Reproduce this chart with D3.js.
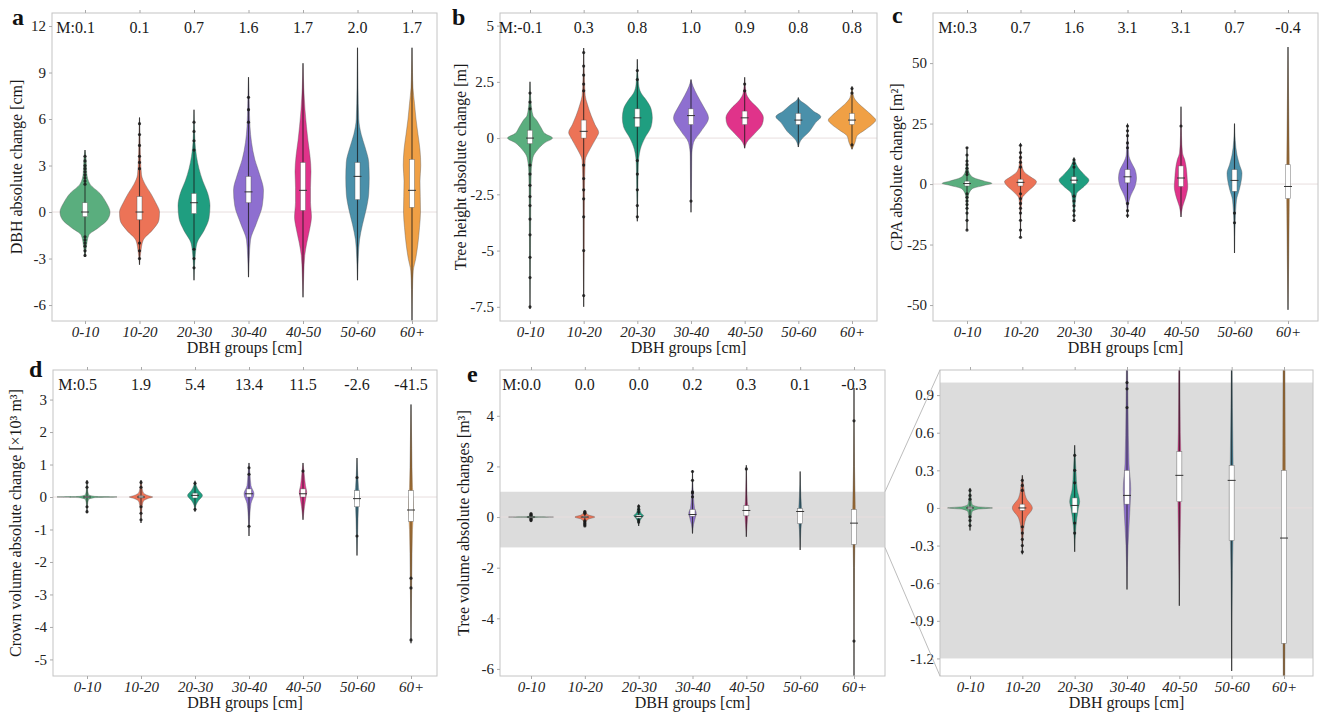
<!DOCTYPE html>
<html>
<head>
<meta charset="utf-8">
<script src="https://cdn.jsdelivr.net/npm/d3@7"></script>
<style>
  body { margin: 0; background: #fff; }
</style>
</head>
<body>
<svg id="chart" width="1324" height="718"></svg>
<script>
var groups = ["0-10", "10-20", "20-30", "30-40", "40-50", "50-60", "60+"];
var colors = ["#5aae7e", "#ec7357", "#1f9e80", "#8e6fd0", "#e0338a", "#4a90aa", "#f0a045"];

// mean labels printed on top of each panel
var meanA = ["0.1", "0.1", "0.7", "1.6", "1.7", "2.0", "1.7"];
var meanB = ["-0.1", "0.3", "0.8", "1.0", "0.9", "0.8", "0.8"];
var meanC = ["0.3", "0.7", "1.6", "3.1", "3.1", "0.7", "-0.4"];
var meanD = ["0.5", "1.9", "5.4", "13.4", "11.5", "-2.6", "-41.5"];
var meanE = ["0.0", "0.0", "0.0", "0.2", "0.3", "0.1", "-0.3"];

// y tick values
var ticksA = [-6, -3, 0, 3, 6, 9, 12];
var ticksB = [-7.5, -5, -2.5, 0, 2.5, 5];
var ticksC = [-50, -25, 0, 25, 50];
var ticksD = [-5, -4, -3, -2, -1, 0, 1, 2, 3];
var ticksE = [-6, -4, -2, 0, 2, 4];
var ticksF = [-1.2, -0.9, -0.6, -0.3, 0, 0.3, 0.6, 0.9];

// zoomed range of panel e shown in panel f
var insetRange = [-1.2, 1.0];

// violin outlines: [value, relative density]
var violinA = [
  [[-2.9,0],[-2.3,0.05],[-1.5,0.15],[-1.0,0.55],[-0.5,0.9],[0,1],[0.6,0.85],[1.2,0.6],[1.8,0.2],[2.5,0.07],[3.5,0.04],[4,0]],
  [[-3.4,0],[-2.6,0.05],[-1.8,0.15],[-1.2,0.5],[-0.5,0.78],[0,0.8],[0.6,0.65],[1.2,0.45],[1.8,0.22],[2.4,0.08],[3.5,0.04],[5,0.02],[6.1,0]],
  [[-4.4,0],[-3,0.04],[-2.0,0.12],[-1.2,0.4],[-0.4,0.6],[0.4,0.64],[1.2,0.55],[2.0,0.35],[2.8,0.2],[3.6,0.1],[4.5,0.04],[6.6,0]],
  [[-4.2,0],[-3,0.03],[-1.8,0.08],[-0.8,0.3],[0.4,0.55],[1.4,0.6],[2.4,0.45],[3.4,0.25],[4.5,0.12],[5.5,0.06],[7,0.03],[8.7,0]],
  [[-5.5,0],[-4,0.03],[-2.8,0.07],[-2,0.15],[-1,0.28],[-0.3,0.34],[0.6,0.3],[1.6,0.3],[2.6,0.32],[3.6,0.28],[4.6,0.2],[5.5,0.14],[6.6,0.08],[8,0.03],[9.6,0]],
  [[-4.4,0],[-3,0.03],[-1.8,0.08],[-0.8,0.2],[0.2,0.35],[1.2,0.45],[2.2,0.47],[3.2,0.45],[4.2,0.3],[5,0.15],[6,0.05],[8,0.02],[10.6,0]],
  [[-7,0],[-5,0.02],[-3.8,0.05],[-3,0.15],[-2,0.24],[-1,0.3],[0,0.34],[1,0.33],[2,0.32],[3,0.35],[4,0.32],[5,0.24],[6,0.16],[7,0.1],[8,0.04],[9,0.02],[10.6,0]]
];
var boxA = [[-0.3,0,0.6],[-0.5,0,1.0],[-0.1,0.6,1.2],[0.6,1.3,2.3],[0.1,1.4,3.2],[0.8,2.3,3.2],[0.3,1.4,3.4]];
var rangeA = [[-2.9,4],[-3.4,6.1],[-4.4,6.6],[-4.2,8.7],[-5.5,9.6],[-4.4,10.6],[-7,10.6]];
var dotsA = [
  [3.6,3.3,3.0,2.8,2.6,2.4,2.2,2.0,1.8,-1.6,-1.8,-2.0,-2.2,-2.5,-2.8],
  [5.7,5.0,4.3,3.6,3.2,2.8,-2.0,-2.5,-3.0],
  [5.8,5.2,4.6,4.0,-2.4,-3.0,-3.6],
  [7.4,6.6,5.8],
  [],
  [],
  []
];

var violinB = [
  [[-7.6,0],[-5,0.02],[-3,0.03],[-1.5,0.05],[-0.85,0.12],[-0.5,0.32],[-0.2,0.6],[0,0.9],[0.2,0.6],[0.45,0.45],[0.8,0.26],[1.0,0.12],[1.6,0.04],[2.5,0]],
  [[-7.5,0],[-5,0.02],[-2.5,0.03],[-1,0.06],[-0.5,0.25],[0,0.5],[0.25,0.6],[0.6,0.45],[1.0,0.3],[1.5,0.15],[1.9,0.06],[2.6,0.03],[4.0,0]],
  [[-3.7,0],[-2.5,0.02],[-1.2,0.04],[-0.5,0.12],[0,0.3],[0.5,0.55],[0.9,0.6],[1.3,0.55],[1.7,0.35],[2.0,0.15],[2.4,0.05],[3.5,0]],
  [[-3.3,0],[-2,0.02],[-0.8,0.03],[-0.2,0.1],[0.3,0.4],[0.9,0.7],[1.4,0.5],[1.9,0.25],[2.3,0.08],[2.6,0]],
  [[-0.45,0],[-0.2,0.08],[0.2,0.4],[0.6,0.7],[0.9,0.75],[1.3,0.55],[1.7,0.2],[2.0,0.06],[2.7,0]],
  [[-0.4,0],[-0.1,0.1],[0.3,0.45],[0.7,0.7],[0.95,0.9],[1.2,0.6],[1.45,0.35],[1.7,0.05],[1.8,0]],
  [[-0.5,0],[-0.2,0.12],[0.1,0.2],[0.35,0.5],[0.6,0.8],[0.8,0.95],[1.0,0.8],[1.3,0.5],[1.55,0.25],[1.8,0.08],[2.3,0]]
];
var boxB = [[-0.25,0,0.35],[0,0.3,0.8],[0.5,0.9,1.3],[0.6,1.0,1.3],[0.6,0.9,1.2],[0.6,0.8,1.1],[0.6,0.8,1.1]];
var rangeB = [[-7.6,2.5],[-7.5,4.0],[-3.7,3.5],[-3.3,2.6],[-0.45,2.7],[-0.4,1.8],[-0.5,2.3]];
var dotsB = [
  [2.0,1.6,1.3,-1.2,-1.6,-2.1,-2.6,-3.0,-3.6,-4.3,-5.3,-6.2,-7.5],
  [3.8,3.2,2.8,2.4,2.1,-1.2,-1.8,-2.3,-2.7,-3.5,-5.0,-7.0],
  [3.0,2.6,-1.0,-1.6,-2.3,-3.0,-3.5],
  [-2.8],
  [2.4,2.1],
  [],
  [2.2,2.0,-0.3]
];

var violinC = [
  [[-19,0],[-10,0.02],[-5,0.05],[-2,0.2],[-0.5,0.7],[0.3,1.0],[1.2,0.7],[3,0.2],[6,0.05],[10,0.02],[15.3,0]],
  [[-22,0],[-12,0.02],[-6,0.06],[-3,0.3],[0,0.6],[1,0.64],[3,0.4],[5,0.15],[8,0.05],[12,0.02],[17,0]],
  [[-15.6,0],[-10,0.03],[-4,0.1],[-1,0.4],[1.6,0.6],[4,0.4],[7,0.15],[9,0.06],[11,0]],
  [[-14,0],[-9,0.03],[-5,0.12],[-1,0.3],[2.5,0.36],[6,0.3],[9,0.15],[12,0.05],[18,0.02],[25,0]],
  [[-13.6,0],[-9.5,0.06],[-5,0.2],[-1,0.27],[2,0.25],[6,0.22],[10,0.15],[12.8,0.06],[20,0.02],[32,0]],
  [[-28.5,0],[-15,0.03],[-6.6,0.08],[-2,0.2],[2,0.28],[4.5,0.3],[8,0.2],[12,0.1],[18,0.03],[25,0]],
  [[-52,0],[-30,0.03],[-10,0.05],[0,0.06],[10,0.05],[30,0.03],[56.6,0]]
];
var boxC = [[-0.8,0.2,1.2],[-0.8,0.7,2.0],[0.2,1.6,3.0],[0.5,3.0,6.0],[-1,2.5,7.5],[-3,1.5,6],[-6,-1,8]];
var rangeC = [[-19,15.3],[-22,17],[-15.6,11],[-14,25],[-13.6,32],[-28.5,25],[-52,56.6]];
var dotsC = [
  [15,12,9.5,8,6.5,5,4,-4,-5.5,-7,-8.5,-10,-12,-15,-19],
  [16,13,11,9,7,-4,-6,-8,-10,-12,-15,-19,-22],
  [10,8.5,7,-5,-7,-9,-11,-13,-15],
  [24,22,20,17,15,-8,-11,-13],
  [24],
  [-12,-16],
  []
];

var violinD = [
  [[-0.5,0],[-0.25,0.02],[-0.08,0.06],[-0.02,0.3],[0,1.2],[0.02,0.3],[0.08,0.06],[0.25,0.02],[0.52,0]],
  [[-0.8,0],[-0.4,0.03],[-0.15,0.08],[-0.04,0.3],[0,0.47],[0.04,0.3],[0.15,0.08],[0.35,0.03],[0.52,0]],
  [[-0.45,0],[-0.25,0.04],[-0.1,0.15],[0.05,0.3],[0.2,0.15],[0.35,0.05],[0.5,0]],
  [[-1.2,0],[-0.6,0.03],[-0.2,0.08],[0.1,0.2],[0.35,0.08],[0.7,0.04],[1.05,0]],
  [[-0.7,0],[-0.3,0.06],[0,0.12],[0.15,0.15],[0.35,0.1],[0.7,0.05],[1.05,0]],
  [[-1.8,0],[-1,0.03],[-0.3,0.06],[0,0.1],[0.3,0.06],[0.7,0.03],[1.2,0]],
  [[-4.5,0],[-2.5,0.03],[-1,0.06],[-0.3,0.1],[0.3,0.06],[1.5,0.03],[2.85,0]]
];
var boxD = [[-0.02,0,0.02],[-0.03,0,0.04],[-0.03,0.05,0.12],[0,0.1,0.25],[0,0.1,0.25],[-0.3,-0.05,0.2],[-0.75,-0.4,0.2]];
var rangeD = [[-0.5,0.52],[-0.8,0.52],[-0.45,0.5],[-1.2,1.05],[-0.7,1.05],[-1.8,1.2],[-4.5,2.85]];
var dotsD = [
  [0.45,0.3,-0.3,-0.45],
  [0.45,0.3,-0.3,-0.5,-0.7],
  [0.42,-0.38],
  [0.9,0.7,-0.9],
  [0.8],
  [0.6,-1.2],
  [-2.5,-2.8,-4.4]
];

// tree volume (panel e, zoomed in panel f)
var violinE = [
  [[-0.18,0],[-0.1,0.03],[-0.03,0.08],[-0.01,0.3],[0,0.9],[0.01,0.3],[0.03,0.08],[0.1,0.03],[0.16,0]],
  [[-0.37,0],[-0.2,0.04],[-0.08,0.15],[0,0.4],[0.08,0.15],[0.18,0.05],[0.26,0]],
  [[-0.35,0],[-0.15,0.05],[0,0.15],[0.05,0.2],[0.15,0.1],[0.3,0.05],[0.5,0]],
  [[-0.65,0],[-0.3,0.04],[0,0.12],[0.15,0.15],[0.35,0.08],[0.8,0.04],[1.85,0]],
  [[-0.78,0],[-0.3,0.03],[0.1,0.06],[0.3,0.07],[0.6,0.04],[1.2,0.02],[2.05,0]],
  [[-1.3,0],[-0.5,0.03],[0,0.07],[0.3,0.06],[0.8,0.03],[1.8,0]],
  [[-6.3,0],[-2,0.02],[-0.5,0.05],[0,0.06],[0.5,0.05],[2,0.02],[5.1,0]]
];
var boxE = [[-0.01,0,0.01],[-0.02,0,0.03],[-0.04,0.02,0.08],[0.03,0.1,0.3],[0.05,0.26,0.45],[-0.26,0.22,0.34],[-1.08,-0.24,0.3]];
var rangeE = [[-0.18,0.16],[-0.37,0.26],[-0.35,0.5],[-0.65,1.85],[-0.78,2.05],[-1.3,1.8],[-6.3,5.1]];
var dotsE = [
  [0.14,0.1,0.07,-0.07,-0.1,-0.14],
  [0.22,0.18,0.14,-0.15,-0.2,-0.25,-0.3,-0.35],
  [0.42,0.3,0.2,-0.12,-0.2],
  [1.8,1.45,1.0,0.95,0.8],
  [1.9],
  [],
  [3.8,-4.9]
];

var FONT = "'Liberation Serif', 'DejaVu Serif', serif";
var fmtPlain = function(d) { return String(d); };
var fmtOne = function(d) { return d === 0 ? "0" : d.toFixed(1); };

var panels = [
  {id: "a", left: 52, right: 437, top: 13, bottom: 321, first: 85, last: 412, domain: [-7.03, 12.84],
   ticks: ticksA, fmt: fmtPlain, means: meanA, violin: violinA, box: boxA, range: rangeA, dots: dotsA,
   ylabel: "DBH absolute change [cm]", ylx: 18, letter: [12, 25]},
  {id: "b", left: 500, right: 877, top: 13, bottom: 321, first: 530, last: 852, domain: [-8.13, 5.56],
   ticks: ticksB, fmt: fmtPlain, means: meanB, violin: violinB, box: boxB, range: rangeB, dots: dotsB,
   ylabel: "Tree height absolute change [m]", ylx: 462, letter: [452, 25]},
  {id: "c", left: 933, right: 1318, top: 13, bottom: 321, first: 967, last: 1288, domain: [-56.6, 70.7],
   ticks: ticksC, fmt: fmtPlain, means: meanC, violin: violinC, box: boxC, range: rangeC, dots: dotsC,
   ylabel: "CPA absolute change [m\u00b2]", ylx: 898, letter: [892, 23]},
  {id: "d", left: 53, right: 437, top: 370, bottom: 676, first: 87, last: 411, domain: [-5.51, 3.91],
   ticks: ticksD, fmt: fmtPlain, means: meanD, violin: violinD, box: boxD, range: rangeD, dots: dotsD,
   ylabel: "Crown volume absolute change [\u00d710\u00b3 m\u00b3]", ylx: 17, letter: [29, 377]},
  {id: "e", left: 500, right: 885, top: 370, bottom: 676, first: 531, last: 854, domain: [-6.28, 5.81],
   ticks: ticksE, fmt: fmtPlain, means: meanE, violin: violinE, box: boxE, range: rangeE, dots: dotsE,
   ylabel: "Tree volume absolute changes [m\u00b3]", ylx: 465, letter: [467, 382], band: insetRange},
  {id: "f", left: 940, right: 1313, top: 370, bottom: 676, first: 970, last: 1284, domain: [-1.34, 1.10],
   ticks: ticksF, fmt: fmtOne, means: null, violin: violinE, box: boxE, range: rangeE, dots: dotsE,
   ylabel: null, band: insetRange}
];

var svg = d3.select("#chart").attr("font-family", FONT);
svg.append("rect").attr("width", 1324).attr("height", 718).attr("fill", "#fff");

var wScale = d3.scaleLinear().domain([0, 1]).range([0, 25]);
var scales = {};

panels.forEach(function(p) {
  var g = svg.append("g").attr("class", "panel panel-" + p.id);
  var x = d3.scalePoint().domain(groups).range([p.first, p.last]);
  var y = d3.scaleLinear().domain(p.domain).range([p.bottom, p.top]);
  scales[p.id] = y;

  g.append("clipPath").attr("id", "clip-" + p.id)
    .append("rect")
    .attr("x", p.left).attr("y", p.top)
    .attr("width", p.right - p.left).attr("height", p.bottom - p.top);

  var plot = g.append("g").attr("clip-path", "url(#clip-" + p.id + ")");

  if (p.band) {
    plot.append("rect")
      .attr("x", p.left).attr("width", p.right - p.left)
      .attr("y", y(p.band[1])).attr("height", y(p.band[0]) - y(p.band[1]))
      .attr("fill", "#dcdcdc");
  }

  // zero line
  plot.append("line")
    .attr("x1", p.left).attr("x2", p.right)
    .attr("y1", y(0)).attr("y2", y(0))
    .attr("stroke", "#e8dede").attr("stroke-width", 1);

  var area = d3.area()
    .curve(d3.curveMonotoneY)
    .y(function(d) { return y(d[0]); });

  groups.forEach(function(grp, i) {
    var cx = x(grp);
    var c = colors[i];
    var prof = p.violin[i].slice().reverse();
    area.x0(function(d) { return cx - wScale(d[1]); })
        .x1(function(d) { return cx + wScale(d[1]); });

    plot.append("path")
      .attr("d", area(prof))
      .attr("fill", c)
      .attr("stroke", "#555").attr("stroke-opacity", 0.55)
      .attr("stroke-width", 0.7);

    plot.append("line")
      .attr("x1", cx).attr("x2", cx)
      .attr("y1", y(p.range[i][0])).attr("y2", y(p.range[i][1]))
      .attr("stroke", "#1a1a1a").attr("stroke-width", 1.1).attr("stroke-opacity", 0.75);

    plot.selectAll(null)
      .data(p.dots[i])
      .enter().append("circle")
      .attr("cx", cx).attr("cy", function(d) { return y(d); })
      .attr("r", 1.6)
      .attr("fill", "#1a1a1a").attr("fill-opacity", 0.85);

    var b = p.box[i];
    plot.append("rect")
      .attr("x", cx - 2.5).attr("width", 5)
      .attr("y", y(b[2])).attr("height", Math.max(1, y(b[0]) - y(b[2])))
      .attr("fill", "#fff")
      .attr("stroke", "#555").attr("stroke-width", 0.6).attr("stroke-opacity", 0.7);

    plot.append("line")
      .attr("x1", cx - 4).attr("x2", cx + 4)
      .attr("y1", y(b[1])).attr("y2", y(b[1]))
      .attr("stroke", "#333").attr("stroke-width", 1);
  });

  // frame
  g.append("rect")
    .attr("x", p.left).attr("y", p.top)
    .attr("width", p.right - p.left).attr("height", p.bottom - p.top)
    .attr("fill", "none").attr("stroke", "#c4c4c4").attr("stroke-width", 1);

  // y axis
  var ya = g.append("g")
    .attr("transform", "translate(" + p.left + ",0)")
    .call(d3.axisLeft(y).tickValues(p.ticks).tickFormat(p.fmt).tickSize(3).tickPadding(3))
    .attr("font-family", FONT).attr("font-size", 15);
  ya.select(".domain").remove();
  ya.selectAll(".tick line").attr("stroke", "#aaa");
  ya.selectAll(".tick text").attr("fill", "#222");

  // x axis
  var xa = g.append("g")
    .attr("transform", "translate(0," + p.bottom + ")")
    .call(d3.axisBottom(x).tickSize(3).tickPadding(2))
    .attr("font-family", FONT).attr("font-size", 15);
  xa.select(".domain").remove();
  xa.selectAll(".tick line").attr("stroke", "#aaa");
  xa.selectAll(".tick text").attr("font-style", "italic").attr("fill", "#222");

  // small ticks on top frame
  var xt = g.append("g")
    .attr("transform", "translate(0," + p.top + ")")
    .call(d3.axisTop(x).tickSize(3).tickFormat(""));
  xt.select(".domain").remove();
  xt.selectAll(".tick line").attr("stroke", "#aaa");

  g.append("text")
    .attr("x", (p.left + p.right) / 2).attr("y", p.bottom + 32)
    .attr("text-anchor", "middle").attr("font-size", 16).attr("fill", "#1a1a1a")
    .text("DBH groups [cm]");

  if (p.ylabel) {
    g.append("text")
      .attr("transform", "translate(" + p.ylx + "," + (p.top + p.bottom) / 2 + ") rotate(-90)")
      .attr("text-anchor", "middle").attr("dominant-baseline", "middle")
      .attr("font-size", 16).attr("fill", "#1a1a1a")
      .text(p.ylabel);
  }

  if (p.means) {
    var my = p.top + 16;
    var labels = g.selectAll(null)
      .data(p.means)
      .enter().append("text")
      .attr("x", function(d, i) { return x(groups[i]); })
      .attr("y", my)
      .attr("text-anchor", "middle").attr("dominant-baseline", "middle")
      .attr("font-size", 16).attr("fill", "#1a1a1a")
      .text(function(d) { return d; });
    var firstW = labels.node().getComputedTextLength();
    g.append("text")
      .attr("x", x(groups[0]) - firstW / 2).attr("y", my)
      .attr("text-anchor", "end").attr("dominant-baseline", "middle")
      .attr("font-size", 16).attr("fill", "#1a1a1a")
      .text("M:");
  }

  if (p.letter) {
    g.append("text")
      .attr("x", p.letter[0]).attr("y", p.letter[1])
      .attr("font-size", 24).attr("font-weight", "bold").attr("fill", "#111")
      .text(p.id);
  }
});

// connectors from the band in panel e to panel f
var pe = panels[4], pf = panels[5];
var ye = scales.e;
svg.append("line")
  .attr("x1", pe.right).attr("y1", ye(insetRange[1]))
  .attr("x2", pf.left).attr("y2", pf.top)
  .attr("stroke", "#bdbdbd").attr("stroke-width", 1);
svg.append("line")
  .attr("x1", pe.right).attr("y1", ye(insetRange[0]))
  .attr("x2", pf.left).attr("y2", pf.bottom)
  .attr("stroke", "#bdbdbd").attr("stroke-width", 1);
</script>
</body>
</html>
